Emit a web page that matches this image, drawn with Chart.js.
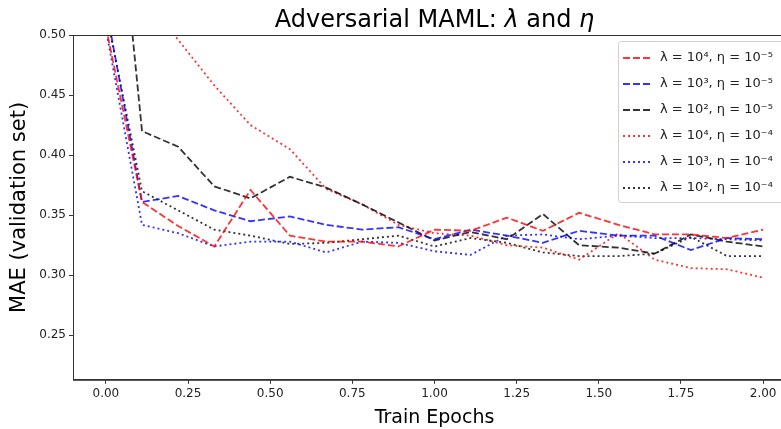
<!DOCTYPE html>
<html>
<head>
<meta charset="utf-8">
<script src="https://cdn.jsdelivr.net/npm/chart.js@4"></script>
<style>
  html, body { margin: 0; padding: 0; background: #fff; overflow: hidden; }
  #wrap { width: 800px; height: 429px; }
</style>
</head>
<body>
<div id="wrap"><canvas id="chart" width="800" height="429"></canvas></div>
<script>
// epochs (x) and MAE values
const epochs = [0.00, 0.11, 0.22, 0.33, 0.44, 0.56, 0.67, 0.78, 0.89, 1.00,
                1.11, 1.22, 1.33, 1.44, 1.56, 1.67, 1.78, 1.89, 2.00];

const l4e5 = [0.507, 0.361, 0.341, 0.324, 0.371, 0.333, 0.328, 0.328, 0.324, 0.338,
              0.337, 0.348, 0.337, 0.352, 0.342, 0.334, 0.334, 0.331, 0.338];
const l3e5 = [0.524, 0.361, 0.366, 0.354, 0.345, 0.349, 0.342, 0.338, 0.340, 0.330,
              0.338, 0.333, 0.327, 0.337, 0.333, 0.333, 0.321, 0.331, 0.330];
const l2e5 = [0.724, 0.420, 0.407, 0.374, 0.364, 0.382, 0.373, 0.359, 0.344, 0.329,
              0.336, 0.330, 0.351, 0.325, 0.323, 0.318, 0.334, 0.328, 0.324];
const l4e4 = [0.620, 0.532, 0.496, 0.458, 0.425, 0.405, 0.372, 0.359, 0.342, 0.335,
              0.333, 0.325, 0.323, 0.313, 0.335, 0.313, 0.306, 0.305, 0.298];
const l3e4 = [0.505, 0.342, 0.335, 0.324, 0.328, 0.328, 0.319, 0.328, 0.327, 0.320,
              0.317, 0.333, 0.334, 0.330, 0.333, 0.331, 0.331, 0.330, 0.329];
const l2e4 = [0.520, 0.370, 0.354, 0.338, 0.333, 0.326, 0.327, 0.330, 0.333, 0.324,
              0.331, 0.327, 0.319, 0.316, 0.316, 0.318, 0.332, 0.316, 0.316];

const seriesNames = [
  'λ = 10⁴, η = 10⁻⁵', 'λ = 10³, η = 10⁻⁵', 'λ = 10², η = 10⁻⁵',
  'λ = 10⁴, η = 10⁻⁴', 'λ = 10³, η = 10⁻⁴', 'λ = 10², η = 10⁻⁴'
];

const xTicks = [0, 0.25, 0.5, 0.75, 1.0, 1.25, 1.5, 1.75, 2.0];
const yTicks = [0.25, 0.30, 0.35, 0.40, 0.45, 0.50];

// title pieces: [text, italic?]  (λ and η set in math italic)
const titleParts = [['Adversarial MAML: ', false], ['λ', true], [' and ', false], ['η', true]];

const FONT = "'DejaVu Sans', sans-serif";
const RED = 'rgba(255,0,0,0.8)';
const BLUE = 'rgba(0,0,255,0.8)';
const BLACK = 'rgba(0,0,0,0.8)';
const DASHED = [7, 3];
const DOTTED = [2, 3];

const pts = vals => vals.map((v, i) => ({ x: epochs[i], y: v }));
const mkSet = (label, vals, color, dash) => ({
  label, data: pts(vals), borderColor: color, backgroundColor: color,
  borderDash: dash, borderWidth: 1.8, pointRadius: 0, tension: 0, fill: false
});

// frame around the plot area (matplotlib spines) + title centred on the axes
const framePlugin = {
  id: 'frame',
  afterDraw(chart) {
    const { ctx, chartArea: a } = chart;
    ctx.save();
    ctx.strokeStyle = '#333';
    ctx.lineWidth = 1;
    ctx.strokeRect(a.left + 0.5, a.top + 0.5, a.right - a.left, a.bottom - a.top);

    const size = 24;
    const fontOf = it => (it ? 'italic ' : '') + size + 'px ' + FONT;
    let total = 0;
    titleParts.forEach(([t, it]) => { ctx.font = fontOf(it); total += ctx.measureText(t).width; });
    let x = (a.left + a.right) / 2 - total / 2;
    ctx.fillStyle = '#000';
    ctx.textBaseline = 'alphabetic';
    titleParts.forEach(([t, it]) => {
      ctx.font = fontOf(it);
      ctx.fillText(t, x, 27);
      x += ctx.measureText(t).width;
    });
    ctx.restore();
  }
};

// legend box drawn inside the axes, upper right
const legendPlugin = {
  id: 'boxLegend',
  afterDraw(chart) {
    const { ctx, chartArea: a } = chart;
    const x0 = a.right - 178, y0 = a.top + 6;
    const rowH = 26, w = 172, h = 161;
    ctx.save();
    ctx.fillStyle = 'rgba(255,255,255,0.85)';
    ctx.strokeStyle = '#d0d0d0';
    ctx.lineWidth = 1;
    ctx.beginPath();
    ctx.roundRect(x0 + 0.5, y0 + 0.5, w, h, 3);
    ctx.fill();
    ctx.stroke();
    ctx.font = '13px ' + FONT;
    ctx.textBaseline = 'middle';
    chart.data.datasets.forEach((ds, i) => {
      const y = y0 + 17 + i * rowH;
      ctx.strokeStyle = ds.borderColor;
      ctx.lineWidth = 1.8;
      ctx.setLineDash(ds.borderDash);
      ctx.beginPath();
      ctx.moveTo(x0 + 5, y);
      ctx.lineTo(x0 + 33, y);
      ctx.stroke();
      ctx.setLineDash([]);
      ctx.fillStyle = '#222';
      ctx.fillText(ds.label, x0 + 42, y);
    });
    ctx.restore();
  }
};

new Chart(document.getElementById('chart'), {
  type: 'line',
  data: {
    datasets: [
      mkSet(seriesNames[0], l4e5, RED, DASHED),
      mkSet(seriesNames[1], l3e5, BLUE, DASHED),
      mkSet(seriesNames[2], l2e5, BLACK, DASHED),
      mkSet(seriesNames[3], l4e4, RED, DOTTED),
      mkSet(seriesNames[4], l3e4, BLUE, DOTTED),
      mkSet(seriesNames[5], l2e4, BLACK, DOTTED)
    ]
  },
  options: {
    responsive: false,
    animation: false,
    layout: { padding: { left: 0, right: 4, top: 35, bottom: 0 } },
    plugins: {
      legend: { display: false },
      tooltip: { enabled: false },
      title: { display: false }
    },
    scales: {
      x: {
        type: 'linear', min: -0.1, max: 2.1,
        afterBuildTicks: s => { s.ticks = xTicks.map(v => ({ value: v })); },
        ticks: {
          color: '#222', font: { family: FONT, size: 12 }, padding: 3,
          maxRotation: 0, autoSkip: false,
          callback: v => v.toFixed(2)
        },
        grid: { drawOnChartArea: false, drawTicks: true, tickLength: 4, color: '#333' },
        border: { display: true, color: '#333' },
        title: {
          display: true, text: 'Train Epochs', color: '#000',
          font: { family: FONT, size: 19 }, padding: { top: 2, bottom: 0 }
        }
      },
      y: {
        type: 'linear', min: 0.213, max: 0.5,
        afterBuildTicks: s => { s.ticks = yTicks.map(v => ({ value: v })); },
        afterFit: s => { s.width = 73; },
        ticks: {
          color: '#222', font: { family: FONT, size: 12 }, padding: 3,
          autoSkip: false,
          callback: v => v.toFixed(2)
        },
        grid: { drawOnChartArea: false, drawTicks: true, tickLength: 4, color: '#333' },
        border: { display: true, color: '#333' },
        title: {
          display: true, text: 'MAE (validation set)', color: '#000',
          font: { family: FONT, size: 21 }, padding: { top: 7, bottom: 4 }
        }
      }
    }
  },
  plugins: [framePlugin, legendPlugin]
});
</script>
</body>
</html>
